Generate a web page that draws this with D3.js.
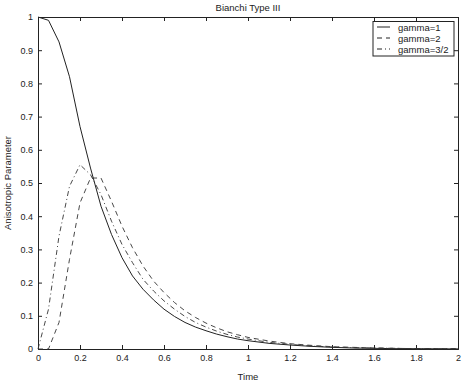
<!DOCTYPE html>
<html>
<head>
<meta charset="utf-8">
<script src="https://cdn.jsdelivr.net/npm/d3@7"></script>
<style>
  body { margin: 0; background: #fff; }
  text { font-family: "Liberation Sans", Arial, sans-serif; fill: #222; }
</style>
</head>
<body>
<svg id="chart"></svg>
<script>
const svg_width = 463;
const svg_height = 383;

var margin = { top: 17, right: 5, bottom: 34, left: 38 };
var width = svg_width - margin.left - margin.right;
var height = svg_height - margin.top - margin.bottom;

// sampled times
const times = [0, 0.05, 0.1, 0.15, 0.2, 0.25, 0.3, 0.35, 0.4, 0.45, 0.5, 0.55, 0.6, 0.65, 0.7, 0.75,
  0.8, 0.85, 0.9, 0.95, 1.0, 1.1, 1.2, 1.3, 1.4, 1.5, 1.6, 1.7, 1.8, 1.9, 2.0];

const gamma1 = [1.0, 0.99, 0.925, 0.82, 0.67, 0.545, 0.43, 0.345, 0.275, 0.22, 0.18, 0.148, 0.12, 0.098, 0.08, 0.066,
  0.055, 0.045, 0.037, 0.03, 0.025, 0.017, 0.012, 0.008, 0.005, 0.003, 0.002, 0.001, 0.001, 0.0005, 0.0003];

const gamma2 = [0, 0.0, 0.08, 0.27, 0.44, 0.515, 0.515, 0.445, 0.37, 0.305, 0.25, 0.205, 0.17, 0.14, 0.115, 0.095,
  0.078, 0.064, 0.052, 0.043, 0.035, 0.024, 0.016, 0.011, 0.007, 0.005, 0.003, 0.002, 0.001, 0.001, 0.0006];

const gamma32 = [0, 0.12, 0.34, 0.49, 0.555, 0.525, 0.465, 0.385, 0.315, 0.26, 0.21, 0.175, 0.145, 0.12, 0.098, 0.08,
  0.066, 0.054, 0.044, 0.036, 0.03, 0.02, 0.014, 0.009, 0.006, 0.004, 0.003, 0.002, 0.001, 0.0007, 0.0005];

const series_names = ["gamma=1", "gamma=2", "gamma=3/2"];
const series_dash = ["none", "5,4", "5,3,1,3"];
const series_values = [gamma1, gamma2, gamma32];

const x_ticks = [0, 0.2, 0.4, 0.6, 0.8, 1, 1.2, 1.4, 1.6, 1.8, 2];
const y_ticks = [0, 0.1, 0.2, 0.3, 0.4, 0.5, 0.6, 0.7, 0.8, 0.9, 1];

var svg = d3.select("svg#chart")
    .attr("width", svg_width)
    .attr("height", svg_height);

var x = d3.scaleLinear().domain([0, 2]).range([0, width]);
var y = d3.scaleLinear().domain([0, 1]).range([height, 0]);

var g = svg.append("g")
    .attr("transform", translate(margin.left, margin.top));

// axes, ticks pointing inward on all four sides
var xAxis = d3.axisBottom(x).tickValues(x_ticks).tickSize(-4).tickPadding(6).tickFormat(d3.format("~g"));
var yAxis = d3.axisLeft(y).tickValues(y_ticks).tickSize(-4).tickPadding(5).tickFormat(d3.format("~g"));
var xTop = d3.axisTop(x).tickValues(x_ticks).tickSize(-4).tickFormat("");
var yRight = d3.axisRight(y).tickValues(y_ticks).tickSize(-4).tickFormat("");

g.append("g").attr("class", "axis").attr("transform", translate(0, height)).call(xAxis);
g.append("g").attr("class", "axis").call(yAxis);
g.append("g").attr("class", "axis").call(xTop);
g.append("g").attr("class", "axis").attr("transform", translate(width, 0)).call(yRight);

g.selectAll(".axis path").attr("stroke", "#222");
g.selectAll(".axis line").attr("stroke", "#222");
g.selectAll(".axis text")
    .style("font-size", "9px")
    .style("font-family", "Liberation Sans, Arial, sans-serif")
    .attr("fill", "#222");

// curves
var line = d3.line()
    .x((d, i) => x(times[i]))
    .y(d => y(d));

series_values.forEach((vals, k) => {
  g.append("path")
    .datum(vals)
    .attr("d", line)
    .attr("fill", "none")
    .attr("stroke", k == 0 ? "#222" : "#333")
    .attr("stroke-width", k == 0 ? 1 : 0.9)
    .attr("stroke-dasharray", series_dash[k]);
});

// title and axis labels
svg.append("text")
    .attr("x", margin.left + width / 2)
    .attr("y", 11)
    .attr("text-anchor", "middle")
    .style("font-size", "9.5px")
    .text("Bianchi Type III");

svg.append("text")
    .attr("x", margin.left + width / 2)
    .attr("y", 380)
    .attr("text-anchor", "middle")
    .style("font-size", "9.5px")
    .text("Time");

svg.append("text")
    .attr("transform", "rotate(-90)")
    .attr("x", -(margin.top + height / 2))
    .attr("y", 11)
    .attr("text-anchor", "middle")
    .style("font-size", "9.5px")
    .text("Anisotropic Parameter");

// legend
var legend = svg.append("g").attr("transform", translate(373, 21.5));
legend.append("rect")
    .attr("width", 81)
    .attr("height", 34.5)
    .attr("fill", "#fff")
    .attr("stroke", "#222");

series_names.forEach((name, k) => {
  var row = legend.append("g").attr("transform", translate(0, 5.5 + k * 11));
  row.append("line")
    .attr("x1", 4).attr("x2", 17)
    .attr("y1", 0).attr("y2", 0)
    .attr("stroke", "#222")
    .attr("stroke-dasharray", series_dash[k]);
  row.append("text")
    .attr("x", 25)
    .attr("y", 3.5)
    .style("font-size", "9.5px")
    .text(name);
});

function translate(x, y) {
  return 'translate(' + String(x) + ',' + String(y) + ')';
}
</script>
</body>
</html>
